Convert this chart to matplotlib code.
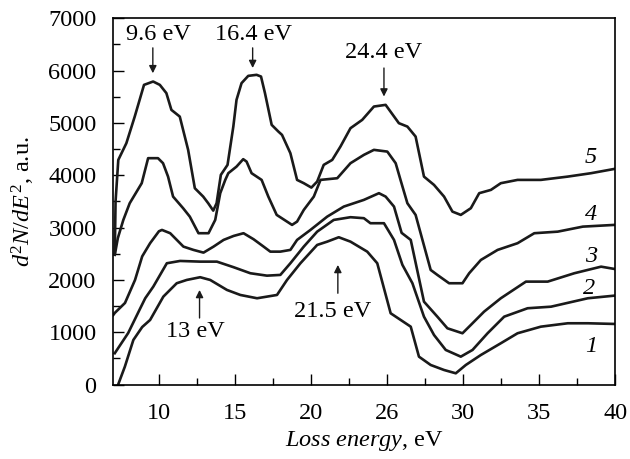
import numpy as np
import matplotlib
matplotlib.use('Agg')
import matplotlib.pyplot as plt

plt.rcParams['font.family'] = 'Liberation Serif'
plt.rcParams['mathtext.fontset'] = 'custom'
plt.rcParams['mathtext.rm'] = 'Liberation Serif'
plt.rcParams['mathtext.it'] = 'Liberation Serif:italic'

# curves: loss energy (eV) and d2N/dE2 (a.u.)
e1 = [7.32, 7.76, 8.32, 8.9, 9.42, 10.29, 11.17, 11.83, 12.71, 13.37, 14.47, 15.35, 16.45,
      17.76, 18.42, 19.3, 20.4, 21.06, 21.82, 22.59, 23.69, 24.35, 25.23, 25.89, 26.55,
      27.09, 27.86, 28.74, 29.51, 30.17, 31.16, 32.47, 33.57, 35.1, 36.87, 38.19, 39.94]
v1 = [0, 342, 853, 1100, 1235, 1681, 1937, 2000, 2052, 2000, 1809, 1713, 1650,
      1713, 2000, 2319, 2669, 2732, 2816, 2732, 2541, 2319, 1363, 1235, 1107,
      534, 375, 279, 216, 375, 566, 790, 981, 1107, 1172, 1172, 1159]

e2 = [7.1, 7.98, 8.76, 9.1, 9.63, 10.52, 11.39, 12.71, 13.81, 14.91, 16.01, 17.1, 17.98,
      18.64, 19.52, 20.4, 21.49, 22.59, 23.47, 23.9, 24.79, 25.45, 26.0, 26.66, 27.42,
      28.08, 28.85, 29.84, 30.61, 31.6, 32.69, 34.23, 35.77, 38.19, 39.94]
v2 = [600, 986, 1450, 1650, 1872, 2319, 2363, 2350, 2350, 2243, 2128, 2082, 2096,
      2319, 2637, 2923, 3147, 3199, 3180, 3084, 3084, 2765, 2290, 1937, 1298,
      948, 662, 534, 662, 981, 1298, 1459, 1489, 1650, 1700]

e3 = [7.0, 7.1, 7.77, 8.43, 8.9, 9.42, 10.0, 10.2, 10.74, 11.61, 12.27, 12.93, 13.59,
      14.25, 14.91, 15.56, 16.22, 16.88, 17.32, 17.98, 18.64, 19.08, 19.96, 21.06, 22.15,
      23.47, 24.46, 24.9, 25.45, 25.95, 26.55, 27.42, 28.3, 28.96, 29.95, 30.5, 31.37,
      32.47, 34.12, 35.55, 37.3, 39.06, 39.94]
v3 = [1330, 1370, 1560, 2000, 2450, 2702, 2930, 2956, 2893, 2637, 2574, 2522, 2637,
      2765, 2841, 2893, 2778, 2637, 2541, 2541, 2574, 2765, 2956, 3210, 3402,
      3530, 3658, 3593, 3402, 2900, 2765, 1585, 1298, 1076, 981, 1140, 1394,
      1650, 1968, 1968, 2128, 2254, 2210]

e4 = [7.1, 7.3, 7.66, 8.08, 8.87, 9.29, 9.94, 10.27, 10.6, 10.93, 11.59, 12.03, 12.6, 13.26,
      13.7, 14.03, 14.36, 14.56, 15.1, 15.54, 15.76, 16.09, 16.75, 17.19, 17.74, 18.75,
      19.08, 19.52, 20.18, 20.62, 21.72, 22.59, 23.47, 24.13, 25.01, 25.56, 25.89, 26.33,
      26.87, 27.86, 28.3, 29.07, 29.95, 30.39, 31.16, 32.26, 33.57, 34.67, 36.21, 37.86, 39.94]
v4 = [2480, 2800, 3146, 3466, 3849, 4327, 4327, 4231, 3975, 3593, 3371, 3210, 2893, 2893,
      3147, 3658, 3912, 4040, 4166, 4308, 4262, 4040, 3912, 3593, 3243, 3052,
      3115, 3338, 3593, 3912, 3944, 4231, 4390, 4486, 4453, 4231, 3900, 3466,
      3243, 2191, 2096, 1937, 1937, 2128, 2382, 2574, 2702, 2893, 2923, 3019, 3052]

e5 = [7.1, 7.15, 7.33, 7.86, 8.41, 9.02, 9.62, 10.06, 10.49, 10.82, 11.37, 11.92, 12.36,
      12.91, 13.24, 13.57, 13.79, 14.07, 14.51, 14.89, 15.1, 15.43, 15.87, 16.42, 16.71,
      16.97, 17.41, 17.85, 18.09, 18.64, 19.08, 19.52, 20.02, 20.4, 20.83, 21.39, 21.93,
      22.59, 23.36, 24.13, 24.9, 25.77, 26.33, 26.87, 27.42, 28.08, 28.74, 29.29, 29.84,
      30.5, 31.05, 31.82, 32.47, 33.57, 35.1, 36.87, 38.4, 39.94]
v5 = [2520, 3500, 4294, 4613, 5122, 5728, 5792, 5728, 5570, 5250, 5122, 4486, 3753,
      3593, 3466, 3325, 3466, 4008, 4199, 4931, 5442, 5761, 5900, 5920, 5887,
      5570, 4964, 4836, 4772, 4422, 3912, 3849, 3765, 3880, 4199, 4294, 4549,
      4900, 5059, 5314, 5346, 4996, 4931, 4740, 3975, 3816, 3593, 3306, 3243,
      3371, 3658, 3721, 3849, 3912, 3912, 3975, 4040, 4122]

curves = [(e1, v1), (e2, v2), (e3, v3), (e4, v4), (e5, v5)]
curve_names = ['1', '2', '3', '4', '5']
name_pos = [(38.4, 725), (38.3, 1841), (38.4, 2446), (38.4, 3243), (38.4, 4333)]

xticks = [10, 15, 20, 25, 30, 35, 40]
xtick_labels = ['10', '15', '20', '26', '30', '35', '40']

fs = 17.5

fig = plt.figure(figsize=(6.3, 4.59), dpi=100)
ax = fig.add_axes([0.1798, 0.1621, 0.797, 0.798])

for e, v in curves:
    ax.plot(e, v, color='#1a1a1a', lw=1.9, solid_joinstyle='round')

for name, (x, y) in zip(curve_names, name_pos):
    ax.text(x, y, name, fontsize=fs, style='italic', ha='center', va='center')

# peak markers
arr = dict(arrowstyle='-|>', color='#1a1a1a', lw=1.0, mutation_scale=11, shrinkA=0, shrinkB=0)
ax.annotate('', xy=(9.6, 5950), xytext=(9.6, 6435), arrowprops=arr)
ax.text(10.0, 6700, '9.6 eV', fontsize=fs, ha='center', va='center')
ax.annotate('', xy=(16.16, 6050), xytext=(16.16, 6435), arrowprops=arr)
ax.text(16.2, 6700, '16.4 eV', fontsize=fs, ha='center', va='center')
ax.annotate('', xy=(24.79, 5505), xytext=(24.79, 6050), arrowprops=arr)
ax.text(24.79, 6340, '24.4 eV', fontsize=fs, ha='center', va='center')
ax.annotate('', xy=(12.67, 1809), xytext=(12.67, 1273), arrowprops=arr)
ax.text(12.4, 1020, '13 eV', fontsize=fs, ha='center', va='center')
ax.annotate('', xy=(21.76, 2287), xytext=(21.76, 1746), arrowprops=arr)
ax.text(21.4, 1390, '21.5 eV', fontsize=fs, ha='center', va='center')

ax.set_xlim(7, 40)
ax.set_ylim(0, 7000)
ax.set_xticks(xticks)
ax.set_xticklabels(xtick_labels)
ax.set_xticks(np.arange(12.5, 40, 5), minor=True)
ax.set_yticks(np.arange(0, 7001, 1000))
ax.set_yticks(np.arange(500, 7000, 1000), minor=True)
ax.tick_params(which='both', direction='in', labelsize=fs, width=1.0)
ax.tick_params(which='major', length=8)
ax.tick_params(which='minor', length=5)
ax.tick_params(axis='x', pad=13)
ax.tick_params(axis='y', pad=12)
for sp in ax.spines.values():
    sp.set_linewidth(1.2)

ax.set_xlabel(r'$Loss\ energy$, eV', fontsize=fs, labelpad=4)
ax.set_ylabel(r'$d^2N/dE^2$, a.u.', fontsize=fs, labelpad=8)

fig.savefig('out.png', dpi=100)
